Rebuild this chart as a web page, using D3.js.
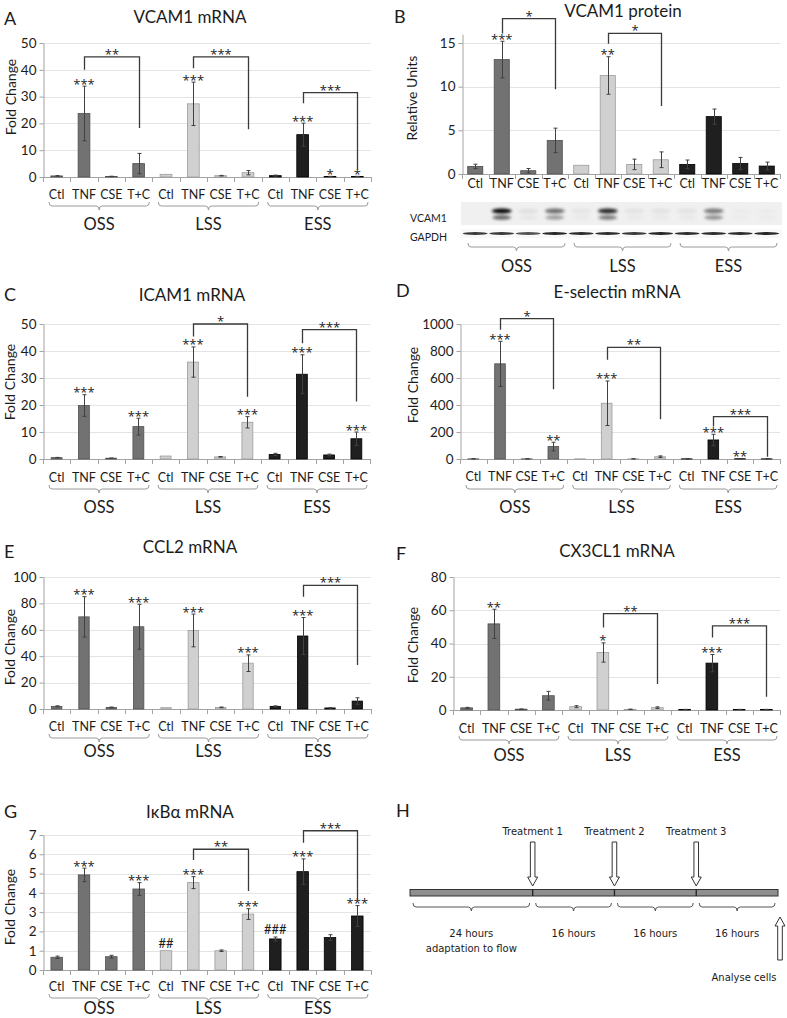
<!DOCTYPE html>
<html><head><meta charset="utf-8">
<script src="https://cdn.jsdelivr.net/npm/d3@7"></script>
<style>body{margin:0;background:#fff} svg{display:block}</style>
</head><body><svg id="c" width="787" height="1018"></svg>
<script>
// ---------------- DATA ----------------
const categories = ["Ctl", "TNF", "CSE", "T+C"];
const groups = ["OSS", "LSS", "ESS"];

// A: VCAM1 mRNA
const vcamMrnaMean = [0.4, 23.7, 0.2, 5.0, 1.0, 27.3, 0.5, 1.6, 0.5, 15.8, 0.2, 0.2];
const vcamMrnaErr  = [0.1, 10.2, 0.1, 3.8, 0, 8.1, 0.1, 0.8, 0.2, 4.3, 0.05, 0.05];
const vcamMrnaSig  = ["", "***", "", "", "", "***", "", "", "", "***", "*", "*"];
const vcamMrnaBrackets = [
  {from: 1, to: 3, top: 44.8, left: 40.0, right: 18.3, label: "**"},
  {from: 5, to: 7, top: 44.8, left: 40.6, right: 17.8, label: "***"},
  {from: 9, to: 11, top: 31.5, left: 27.5, right: 2.75, label: "***"}
];

// B: VCAM1 protein
const vcamProtMean = [0.87, 13.1, 0.38, 3.85, 1.0, 11.28, 1.1, 1.63, 1.1, 6.57, 1.2, 0.91];
const vcamProtErr  = [0.25, 2.1, 0.25, 1.4, 0, 2.15, 0.6, 0.9, 0.5, 0.87, 0.7, 0.45];
const vcamProtSig  = ["", "***", "", "", "", "**", "", "", "", "", "", ""];
const vcamProtBrackets = [
  {from: 1, to: 3, top: 17.8, left: 16.1, right: 9.7, label: "*"},
  {from: 5, to: 7, top: 16.1, left: 14.9, right: 7.8, label: "*"}
];
// western blot band intensities (0..1) per lane
const blotVcamUpper = [0.0, 1.0, 0.07, 0.55, 0.05, 0.85, 0.06, 0.06, 0.06, 0.5, 0.02, 0.02];
const blotVcamLower = [0.0, 0.6, 0.04, 0.35, 0.03, 0.5, 0.03, 0.03, 0.03, 0.4, 0.02, 0.02];
const blotGapdh     = [0.85, 0.85, 0.75, 0.95, 0.9, 0.9, 0.85, 0.95, 0.9, 0.9, 0.9, 0.95];

// C: ICAM1 mRNA
const icamMean = [0.5, 19.8, 0.3, 12.0, 1.1, 35.9, 0.8, 13.6, 1.7, 31.4, 1.5, 7.5];
const icamErr  = [0.1, 4.0, 0.05, 3.1, 0, 5.6, 0.1, 2.1, 0.4, 7.2, 0.3, 2.5];
const icamSig  = ["", "***", "", "***", "", "***", "", "***", "", "***", "", "***"];
const icamBrackets = [
  {from: 5, to: 7, top: 50, left: 45.4, right: 23.1, label: "*"},
  {from: 9, to: 11, top: 47.9, left: 42.9, right: 21.3, label: "***"}
];

// D: E-selectin mRNA
const eselMean = [1, 705, 1, 92, 1, 413, 1, 17, 1, 141, 2, 1];
const eselErr  = [0.3, 167, 0.3, 32, 0, 165, 0.3, 6, 0.3, 42, 0.5, 0.3];
const eselSig  = ["", "***", "", "**", "", "***", "", "", "", "***", "**", ""];
const eselBrackets = [
  {from: 1, to: 3, top: 1040, left: 958, right: 517, label: "*"},
  {from: 5, to: 7, top: 827, left: 735, right: 295, label: "**"},
  {from: 9, to: 11, top: 314, left: 240, right: 17, label: "***"}
];

// E: CCL2 mRNA
const ccl2Mean = [2.0, 69.8, 1.2, 62.3, 1.0, 59.5, 1.2, 34.7, 2.0, 55.3, 0.8, 6.0];
const ccl2Err  = [0.4, 15.3, 0.3, 17.0, 0, 12.4, 0.3, 6.3, 0.4, 14.0, 0.2, 2.5];
const ccl2Sig  = ["", "***", "", "***", "", "***", "", "***", "", "***", "", ""];
const ccl2Brackets = [
  {from: 9, to: 11, top: 93.7, left: 85, right: 33.4, label: "***"}
];

// F: CX3CL1 mRNA
const cx3Mean = [1.3, 51.8, 0.5, 8.6, 2.0, 34.6, 0.4, 1.4, 0.3, 28.2, 0.3, 0.3];
const cx3Err  = [0.3, 8.8, 0.1, 2.6, 0.6, 5.8, 0.1, 0.5, 0.1, 5.2, 0.1, 0.1];
const cx3Sig  = ["", "**", "", "", "", "*", "", "", "", "***", "", ""];
const cx3Brackets = [
  {from: 5, to: 7, top: 58, left: 49.6, right: 15.6, label: "**"},
  {from: 9, to: 11, top: 50.6, left: 43.6, right: 8, label: "***"}
];

// G: IkBa mRNA
const ikbMean = [0.66, 4.93, 0.69, 4.2, 1.0, 4.53, 1.0, 2.9, 1.61, 5.1, 1.68, 2.8];
const ikbErr  = [0.06, 0.35, 0.07, 0.33, 0, 0.31, 0.04, 0.28, 0.1, 0.66, 0.15, 0.54];
const ikbSig  = ["", "***", "", "***", "##", "***", "", "***", "###", "***", "", "***"];
const ikbBrackets = [
  {from: 5, to: 7, top: 6.26, left: 5.7, right: 4.1, label: "**"},
  {from: 9, to: 11, top: 7.22, left: 6.6, right: 3.63, label: "***"}
];

// H: timeline
const phaseHours = [24, 16, 16, 16];
const phaseLabels = ["24 hours", "16 hours", "16 hours", "16 hours"];
const phaseSubLabels = ["adaptation to flow", "", "", ""];
const treatmentLabels = ["Treatment 1", "Treatment 2", "Treatment 3"];
const endLabel = "Analyse cells";

// ---------------- DRAWING ----------------
const svg = d3.select("#c");
const FONT = "Lato, 'Open Sans', sans-serif";
const STARFONT = "'Open Sans', Lato, sans-serif";
const groupFill = ["#727272", "#d0d0d0", "#1f1f1f"];
const groupStroke = ["#505050", "#9c9c9c", "#000000"];
const AXIS = "#a3a3a3";
const TXT = "#1c1c1c";

function sigText(sel, label) {
  const isHash = label.includes("#");
  sel.attr("font-family", isHash ? FONT : STARFONT)
     .attr("font-size", isHash ? 13 : 13)
     .attr("fill", TXT).attr("text-anchor", "middle").text(label);
}

function panel(L, mean, err, sig, brackets) {
  const g = svg.append("g").attr("font-family", FONT);
  const idx = d3.range(mean.length);
  const x = d3.scaleBand().domain(idx).range([L.x0, L.x1]).paddingInner(L.pad).paddingOuter(L.pad / 2);
  const cx = i => x(i) + x.bandwidth() / 2;
  const y = d3.scaleLinear().domain([0, L.max]).range([L.y0, L.yTop]);

  // gridlines
  g.append("g").selectAll("line").data(L.ticks.filter(t => t > 0)).join("line")
    .attr("x1", L.x0).attr("x2", L.x1)
    .attr("y1", d => Math.round(y(d)) + 0.5).attr("y2", d => Math.round(y(d)) + 0.5)
    .attr("stroke", "#e4e4e4").attr("stroke-width", 1);

  // y axis
  const ay = g.append("g").attr("transform", `translate(${L.x0 + 0.5},0)`)
    .call(d3.axisLeft(y).tickValues(L.ticks).tickFormat(d3.format("d")).tickSize(4).tickSizeOuter(0).tickPadding(3));
  ay.attr("font-family", FONT).attr("font-size", 13.5);
  ay.select(".domain").attr("stroke", AXIS);
  ay.selectAll(".tick line").attr("stroke", AXIS);
  ay.selectAll(".tick text").attr("fill", TXT);

  // category axis
  g.append("line").attr("x1", L.x0).attr("x2", L.x1)
    .attr("y1", Math.round(L.y0) + 0.5).attr("y2", Math.round(L.y0) + 0.5).attr("stroke", AXIS);
  g.append("g").selectAll("line").data(d3.range(mean.length + 1)).join("line")
    .attr("x1", d => Math.round(L.x0 + d * x.step()) + 0.5).attr("x2", d => Math.round(L.x0 + d * x.step()) + 0.5)
    .attr("y1", L.y0).attr("y2", L.y0 + 5).attr("stroke", AXIS);
  g.append("g").selectAll("text").data(idx).join("text")
    .attr("x", cx).attr("y", L.catY).attr("text-anchor", "middle")
    .attr("font-size", 12.5).attr("fill", TXT)
    .text(i => categories[i % categories.length]);

  // group braces
  const gw = x.step() * categories.length;
  groups.forEach((name, gi) => {
    const a = L.x0 + gi * gw + 6, b = L.x0 + (gi + 1) * gw - 3, m = (a + b) / 2, t = L.braceY;
    g.append("path")
      .attr("d", `M${a},${t} q0,4 3,4 L${m - 3},${t + 4} q3,0 3,4 q0,-4 3,-4 L${b - 3},${t + 4} q3,0 3,-4`)
      .attr("fill", "none").attr("stroke", "#9a9a9a").attr("stroke-width", 1);
    g.append("text").attr("x", m).attr("y", L.grpY).attr("text-anchor", "middle")
      .attr("font-size", 16.5).attr("fill", TXT).text(name);
  });

  // bars
  g.append("g").selectAll("rect").data(idx).join("rect")
    .attr("x", i => x(i)).attr("width", x.bandwidth())
    .attr("y", i => y(mean[i])).attr("height", i => L.y0 - y(mean[i]))
    .attr("fill", i => groupFill[Math.floor(i / 4)])
    .attr("stroke", i => groupStroke[Math.floor(i / 4)]).attr("stroke-width", 0.8);

  // error bars
  const eg = g.append("g").attr("stroke", "#404040").attr("stroke-width", 1);
  idx.filter(i => err[i] > 0).forEach(i => {
    const c = Math.round(cx(i)) + 0.5;
    const lo = y(Math.max(0, mean[i] - err[i])), hi = y(mean[i] + err[i]);
    eg.append("line").attr("x1", c).attr("x2", c).attr("y1", lo).attr("y2", hi);
    eg.append("line").attr("x1", c - 2).attr("x2", c + 2).attr("y1", hi).attr("y2", hi);
    eg.append("line").attr("x1", c - 2).attr("x2", c + 2).attr("y1", lo).attr("y2", lo);
  });

  // significance
  idx.filter(i => sig[i]).forEach(i => {
    g.append("text").attr("x", cx(i))
      .attr("y", y(mean[i] + err[i]) + (sig[i].includes("#") ? -3 : 2.5))
      .call(sigText, sig[i]);
  });

  // brackets
  brackets.forEach(b => {
    const xl = Math.round(cx(b.from)) + 0.5, xr = Math.round(cx(b.to)) + 0.5;
    g.append("path")
      .attr("d", `M${xl},${y(b.left)} V${y(b.top)} H${xr} V${y(b.right)}`)
      .attr("fill", "none").attr("stroke", "#3a3a3a").attr("stroke-width", 1.3);
    g.append("text").attr("x", (xl + xr) / 2).attr("y", y(b.top) + 2).call(sigText, b.label);
  });

  // titles
  g.append("text").attr("x", L.lx).attr("y", L.ly).attr("font-size", 18).attr("fill", TXT).text(L.letter);
  g.append("text").attr("x", L.tx).attr("y", L.ty).attr("text-anchor", "middle")
    .attr("font-size", 17).attr("fill", TXT).text(L.title);
  g.append("text").attr("transform", `translate(${L.ylx},${L.yly}) rotate(-90)`)
    .attr("text-anchor", "middle").attr("dominant-baseline", "central")
    .attr("font-size", 14).attr("fill", TXT).text(L.ylab);

  return {x, cx, y};
}

const t10 = [0, 10, 20, 30, 40, 50];

panel({letter: "A", lx: 4, ly: 25, title: "VCAM1 mRNA", tx: 190, ty: 23,
  x0: 43, x1: 371, y0: 177, yTop: 43, max: 50, ticks: t10, pad: 0.57,
  ylab: "Fold Change", ylx: 10, yly: 97, catY: 199, braceY: 202, grpY: 230},
  vcamMrnaMean, vcamMrnaErr, vcamMrnaSig, vcamMrnaBrackets);

const pB = panel({letter: "B", lx: 394, ly: 23, title: "VCAM1 protein", tx: 623, ty: 17,
  x0: 462, x1: 780, y0: 174, yTop: 174 - 16 * (131 / 15), max: 16, ticks: [0, 5, 10, 15], pad: 0.43,
  ylab: "Relative Units", ylx: 411, yly: 98, catY: 188, braceY: 243, grpY: 272},
  vcamProtMean, vcamProtErr, vcamProtSig, vcamProtBrackets);

panel({letter: "C", lx: 4, ly: 301, title: "ICAM1 mRNA", tx: 192, ty: 301,
  x0: 43, x1: 370, y0: 459, yTop: 324, max: 50, ticks: t10, pad: 0.6,
  ylab: "Fold Change", ylx: 9, yly: 382, catY: 482, braceY: 485, grpY: 513},
  icamMean, icamErr, icamSig, icamBrackets);

panel({letter: "D", lx: 396, ly: 297, title: "E-selectin mRNA", tx: 617, ty: 298,
  x0: 460, x1: 780, y0: 459, yTop: 324, max: 1000, ticks: [0, 200, 400, 600, 800, 1000], pad: 0.6,
  ylab: "Fold Change", ylx: 412, yly: 385, catY: 481, braceY: 485, grpY: 513},
  eselMean, eselErr, eselSig, eselBrackets);

panel({letter: "E", lx: 4, ly: 558, title: "CCL2 mRNA", tx: 190, ty: 553,
  x0: 43, x1: 371, y0: 709, yTop: 577, max: 100, ticks: [0, 20, 40, 60, 80, 100], pad: 0.62,
  ylab: "Fold Change", ylx: 9, yly: 647, catY: 731, braceY: 734, grpY: 757},
  ccl2Mean, ccl2Err, ccl2Sig, ccl2Brackets);

panel({letter: "F", lx: 396, ly: 560, title: "CX3CL1 mRNA", tx: 617, ty: 557,
  x0: 453, x1: 780, y0: 710, yTop: 577, max: 80, ticks: [0, 20, 40, 60, 80], pad: 0.57,
  ylab: "Fold Change", ylx: 412, yly: 645, catY: 733, braceY: 736, grpY: 761},
  cx3Mean, cx3Err, cx3Sig, cx3Brackets);

panel({letter: "G", lx: 4, ly: 818, title: "IκBα mRNA", tx: 190, ty: 818,
  x0: 43, x1: 371, y0: 970, yTop: 835, max: 7, ticks: [0, 1, 2, 3, 4, 5, 6, 7], pad: 0.58,
  ylab: "Fold Change", ylx: 9, yly: 907, catY: 991, braceY: 994, grpY: 1014},
  ikbMean, ikbErr, ikbSig, ikbBrackets);

// ---- Western blot under B ----
const defs = svg.append("defs");
defs.append("filter").attr("id", "blur").attr("x", "-50%").attr("y", "-100%").attr("width", "200%").attr("height", "300%")
  .append("feGaussianBlur").attr("stdDeviation", 1.6);
defs.append("filter").attr("id", "blur2").attr("x", "-20%").attr("y", "-150%").attr("width", "140%").attr("height", "400%")
  .append("feGaussianBlur").attr("stdDeviation", 0.6);
const blot = svg.append("g");
blot.append("rect").attr("x", 461).attr("y", 202).attr("width", 321).attr("height", 23).attr("fill", "#f0f0f0");
blot.append("rect").attr("x", 461).attr("y", 229).attr("width", 321).attr("height", 9).attr("fill", "#f8f8f8");
const lanes = d3.range(blotVcamUpper.length);
blot.append("g").attr("filter", "url(#blur)").selectAll("ellipse").data(lanes).join("ellipse")
  .attr("cx", i => pB.cx(i)).attr("cy", 211).attr("rx", 10).attr("ry", 2.6)
  .attr("fill", "#000").attr("opacity", i => blotVcamUpper[i]);
blot.append("g").attr("filter", "url(#blur)").selectAll("ellipse").data(lanes).join("ellipse")
  .attr("cx", i => pB.cx(i)).attr("cy", 217.5).attr("rx", 9.5).attr("ry", 2.2)
  .attr("fill", "#000").attr("opacity", i => blotVcamLower[i]);
blot.append("g").attr("filter", "url(#blur2)").selectAll("ellipse").data(lanes).join("ellipse")
  .attr("cx", i => pB.cx(i)).attr("cy", 233.5).attr("rx", 12.5).attr("ry", 1.4)
  .attr("fill", "#1a1a1a").attr("opacity", i => blotGapdh[i]);
blot.append("text").attr("x", 410).attr("y", 222).attr("font-family", FONT).attr("font-size", 10.5).attr("fill", TXT).text("VCAM1");
blot.append("text").attr("x", 410).attr("y", 241).attr("font-family", FONT).attr("font-size", 10.5).attr("fill", TXT).text("GAPDH");

// ---- H: timeline ----
const HF = "'DejaVu Sans', Verdana, sans-serif";
const h = svg.append("g").attr("font-family", HF).attr("fill", TXT);
h.append("text").attr("x", 396).attr("y", 817).attr("font-family", FONT).attr("font-size", 18).text("H");
const cum = [0, ...d3.cumsum(phaseHours)];
const tx = d3.scaleLinear().domain([0, d3.sum(phaseHours)]).range([410, 778]);
h.append("rect").attr("x", tx(0)).attr("y", 889.5).attr("width", tx(cum[4]) - tx(0)).attr("height", 6.5)
  .attr("fill", "#8f8f8f").attr("stroke", "#333").attr("stroke-width", 1);
cum.slice(1, 4).forEach(c => {
  h.append("line").attr("x1", tx(c)).attr("x2", tx(c)).attr("y1", 889.5).attr("y2", 896).attr("stroke", "#222").attr("stroke-width", 1.3);
});
function arrow(xc, yStart, yTip) {
  const dir = Math.sign(yTip - yStart), hl = 9, sw = 2.3, hw = 5;
  const yh = yTip - dir * hl;
  return `M${xc - sw},${yStart} L${xc - sw},${yh} L${xc - hw},${yh} L${xc},${yTip} L${xc + hw},${yh} L${xc + sw},${yh} L${xc + sw},${yStart} Z`;
}
treatmentLabels.forEach((lab, i) => {
  const xc = tx(cum[i + 1]);
  h.append("path").attr("d", arrow(xc, 842, 886)).attr("fill", "#fff").attr("stroke", "#333").attr("stroke-width", 1);
  h.append("text").attr("x", xc).attr("y", 835).attr("text-anchor", "middle").attr("font-size", 10).text(lab);
});
phaseHours.forEach((ph, i) => {
  const a = tx(cum[i]) + 3, b = tx(cum[i + 1]) - 3, m = (a + b) / 2, t = 903;
  h.append("path")
    .attr("d", `M${a},${t} q0,4 3,4 L${m - 3},${t + 4} q3,0 3,4 q0,-4 3,-4 L${b - 3},${t + 4} q3,0 3,-4`)
    .attr("fill", "none").attr("stroke", "#555").attr("stroke-width", 1);
  h.append("text").attr("x", m).attr("y", 937).attr("text-anchor", "middle").attr("font-size", 10).text(phaseLabels[i]);
  if (phaseSubLabels[i]) h.append("text").attr("x", m).attr("y", 952).attr("text-anchor", "middle").attr("font-size", 10).text(phaseSubLabels[i]);
});
h.append("path").attr("d", arrow(tx(cum[4]) + 2, 960, 917)).attr("fill", "#fff").attr("stroke", "#333").attr("stroke-width", 1);
h.append("text").attr("x", 744).attr("y", 981).attr("text-anchor", "middle").attr("font-size", 10).text(endLabel);
</script></body></html>
